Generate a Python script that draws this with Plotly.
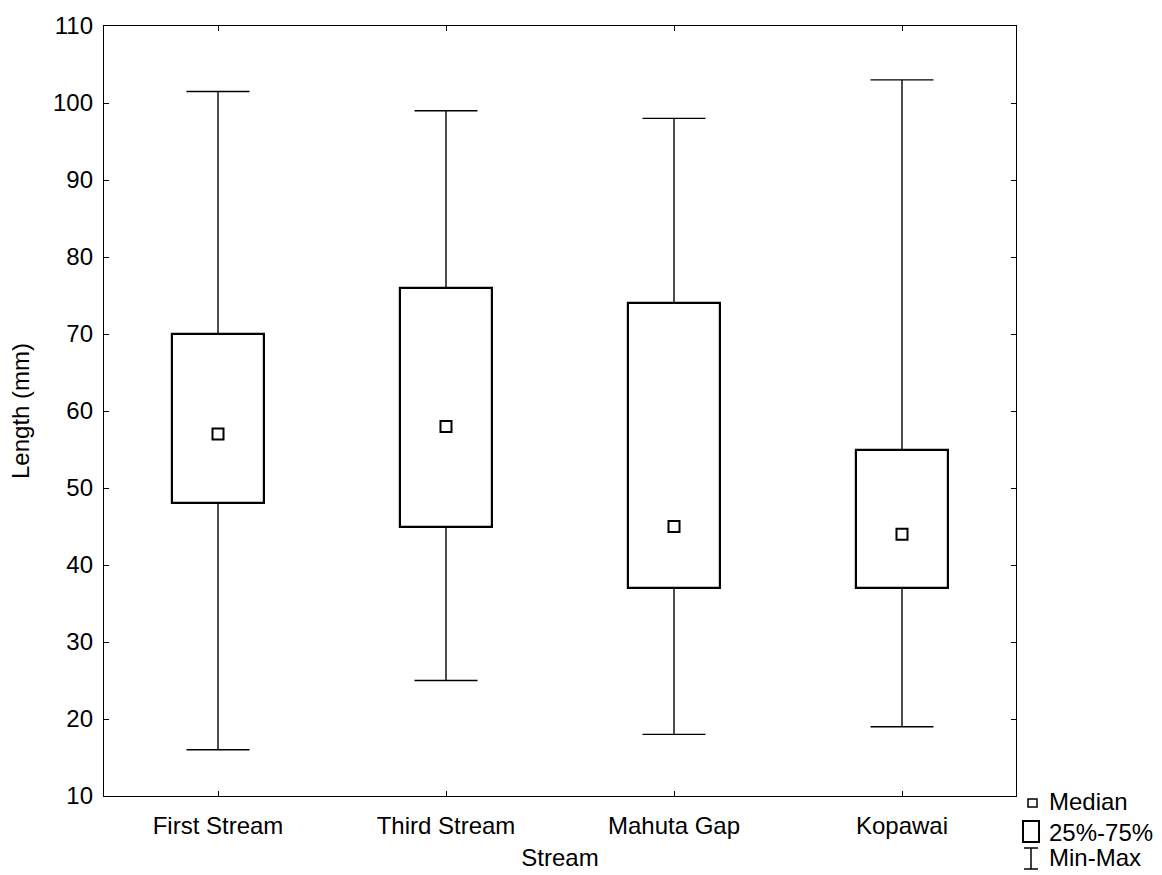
import plotly.graph_objects as go

# Summary statistics of fish length per stream (mm)
streams = ["First Stream", "Third Stream", "Mahuta Gap", "Kopawai"]
minimum = [16, 25, 18, 19]
q1 = [48, 45, 37, 37]
median = [57, 58, 45, 44]
q3 = [70, 76, 74, 55]
maximum = [101.5, 99, 98, 103]

y_ticks = list(range(10, 111, 10))

FONT = "Liberation Sans, Arial, sans-serif"
L, R, T, B = 104, 146, 26, 79
W, H = 1162, 875
PW, PH = W - L - R, H - T - B

fig = go.Figure()

# whisker stems: max -> Q3 and Q1 -> min
wx, wy = [], []
for s, lo, a, b, hi in zip(streams, minimum, q1, q3, maximum):
    wx += [s, s, None, s, s, None]
    wy += [hi, b, None, a, lo, None]
fig.add_trace(go.Scatter(x=wx, y=wy, mode="lines",
                         line=dict(color="black", width=1.4),
                         hoverinfo="skip", showlegend=False))

# whisker caps at min and max
fig.add_trace(go.Scatter(x=streams + streams, y=minimum + maximum, mode="markers",
                         marker=dict(symbol="line-ew", size=45,
                                     line=dict(color="black", width=1.4)),
                         hoverinfo="skip", showlegend=False))

# interquartile boxes
fig.add_trace(go.Bar(x=streams, y=[b - a for a, b in zip(q1, q3)], base=q1,
                     width=0.4, marker=dict(color="white",
                                            line=dict(color="black", width=2.2)),
                     showlegend=False))

# medians
fig.add_trace(go.Scatter(x=streams, y=median, mode="markers",
                         marker=dict(symbol="square-open", size=11, color="black",
                                     line=dict(width=2)),
                         showlegend=False))


def px(xp):
    return (xp - L) / PW


def py(yp):
    return (H - B - yp) / PH


shapes = []
annotations = []
line_k = dict(color="black", width=1.5)
# legend: median symbol
shapes.append(dict(type="rect", xref="paper", yref="paper",
                   x0=px(1028), x1=px(1037), y0=py(807), y1=py(799), line=line_k))
# legend: box symbol
shapes.append(dict(type="rect", xref="paper", yref="paper",
                   x0=px(1023), x1=px(1039), y0=py(842), y1=py(821),
                   line=dict(color="black", width=2)))
# legend: whisker symbol
shapes.append(dict(type="line", xref="paper", yref="paper",
                   x0=px(1031), x1=px(1031), y0=py(848), y1=py(869), line=line_k))
shapes.append(dict(type="line", xref="paper", yref="paper",
                   x0=px(1024), x1=px(1038), y0=py(848), y1=py(848), line=line_k))
shapes.append(dict(type="line", xref="paper", yref="paper",
                   x0=px(1024), x1=px(1038), y0=py(869), y1=py(869), line=line_k))

for label, yc in [("Median", 802), ("25%-75%", 832), ("Min-Max", 858)]:
    annotations.append(dict(text=label, xref="paper", yref="paper",
                            x=px(1047), y=py(yc), xanchor="left", yanchor="middle",
                            showarrow=False, font=dict(size=24, color="black", family=FONT)))

fig.update_layout(
    width=W, height=H,
    margin=dict(l=L, r=R, t=T, b=B, autoexpand=False),
    paper_bgcolor="white", plot_bgcolor="white",
    font=dict(family=FONT, size=24, color="black"),
    showlegend=False,
    bargap=0,
    shapes=shapes, annotations=annotations,
    xaxis=dict(type="category", categoryorder="array", categoryarray=streams,
               range=[-0.5, 3.5], showgrid=False, zeroline=False, automargin=False,
               showline=True, linecolor="black", linewidth=1.3, mirror="ticks",
               ticks="inside", ticklen=5, tickwidth=1.3, tickcolor="black",
               ticklabelstandoff=8,
               title=dict(text="Stream", standoff=11, font=dict(size=24))),
    yaxis=dict(range=[10, 110], tickvals=y_ticks, showgrid=False, zeroline=False,
               automargin=False,
               showline=True, linecolor="black", linewidth=1.3, mirror="ticks",
               ticks="inside", ticklen=5, tickwidth=1.3, tickcolor="black",
               ticklabelstandoff=5,
               title=dict(text="Length (mm)", standoff=16, font=dict(size=24))),
)

fig.write_html("out.html")
